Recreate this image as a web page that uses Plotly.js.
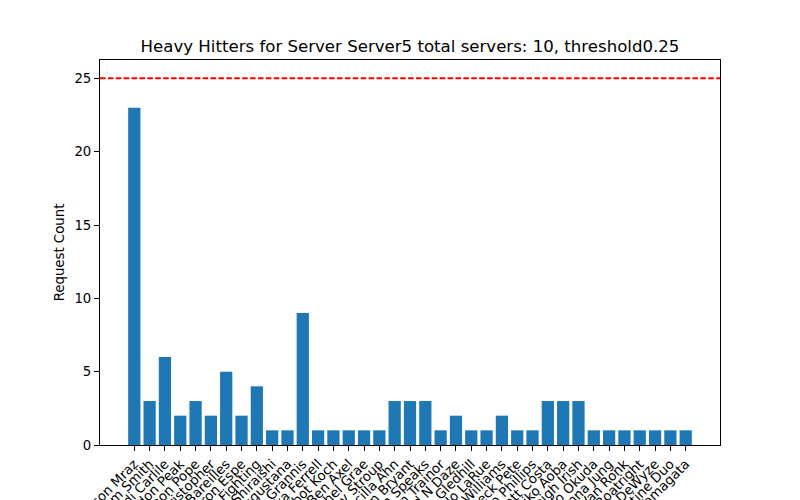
<!DOCTYPE html>
<html>
<head>
<meta charset="utf-8">
<script src="https://cdn.plot.ly/plotly-3.0.1.min.js"></script>
<style>html,body{margin:0;padding:0;overflow:hidden;background:#fff;}</style>
</head>
<body>
<div id="chart" style="width:800px;height:500px;"></div>
<script>
const artists = ["Jason Mraz","Sam Smith","Brandi Carlile","Brandon Peak","Simon Pope","Christopher","Sara Bareilles","Aaron Espe","Jon Fighting","Mai Shiraishi","Augustana","Kina Grannis","Tika Ferrell","Talbot Koch","Ben Axel","Rachel Grae","Jenny Stroup","Priscilla Ahn","Dan Bryant","Jason Speaks","Meghan Trainor","Kid N Daze","Jo Gledhill","Jo LaRue","Tyro Williams","Beck Pete","Phillip Phillips","Matt Costa","Ichiko Aoba","Leigh Irish","Tamio Okuda","Joanna Jung","Dave Van Ronk","Lee Boatright","Lee DeWyze","Valentine Duo","Rachael Yamagata"];
const requestCounts = [23,3,6,2,3,2,5,2,4,1,1,9,1,1,1,1,1,3,3,3,1,2,1,1,2,1,1,3,3,3,1,1,1,1,1,1,1];
const threshold = 25;
const yTicks = [0,5,10,15,20,25];
const titleText = "Heavy Hitters for Server Server5 total servers: 10, threshold0.25";

const font = {family: "DejaVu Sans, sans-serif", size: 13.3, color: "#000"};

const trace = {
  type: "bar",
  x: artists,
  y: requestCounts,
  marker: {color: "#1f77b4", line: {width: 0}},
  hoverinfo: "x+y"
};

const layout = {
  width: 800, height: 500,
  margin: {l: 100, r: 80, t: 60, b: 55},
  paper_bgcolor: "#fff", plot_bgcolor: "#fff",
  font: font,
  showlegend: false,
  bargap: 0.2,
  title: {
    text: titleText,
    font: {family: "DejaVu Sans, sans-serif", size: 16.6, color: "#000"},
    x: 0.5, xref: "paper", xanchor: "center",
    y: 1 - 46/500, yref: "container", yanchor: "middle"
  },
  xaxis: {
    type: "category",
    range: [-2.24, 36 + 2.24],
    tickmode: "array",
    tickvals: artists,
    ticktext: artists,
    tickangle: -45,
    ticks: "outside", ticklen: 5, tickwidth: 1, tickcolor: "#000",
    showline: true, linecolor: "#000", linewidth: 1, mirror: true,
    showgrid: false, zeroline: false,
    tickfont: font,
    automargin: false
  },
  yaxis: {
    range: [0, 26.25],
    tickvals: yTicks,
    ticktext: yTicks.map(String),
    ticks: "outside", ticklen: 5, tickwidth: 1, tickcolor: "#000",
    showline: true, linecolor: "#000", linewidth: 1, mirror: true,
    showgrid: false, zeroline: false,
    tickfont: font,
    automargin: false,
    title: {text: "Request Count", font: font, standoff: 6}
  },
  shapes: [{
    type: "line", xref: "paper", x0: 0, x1: 1, yref: "y", y0: threshold, y1: threshold,
    line: {color: "#ff0000", width: 2, dash: "5.5px,2.4px"}
  }]
};

Plotly.newPlot("chart", [trace], layout, {displayModeBar: false, staticPlot: true});
</script>
</body>
</html>
